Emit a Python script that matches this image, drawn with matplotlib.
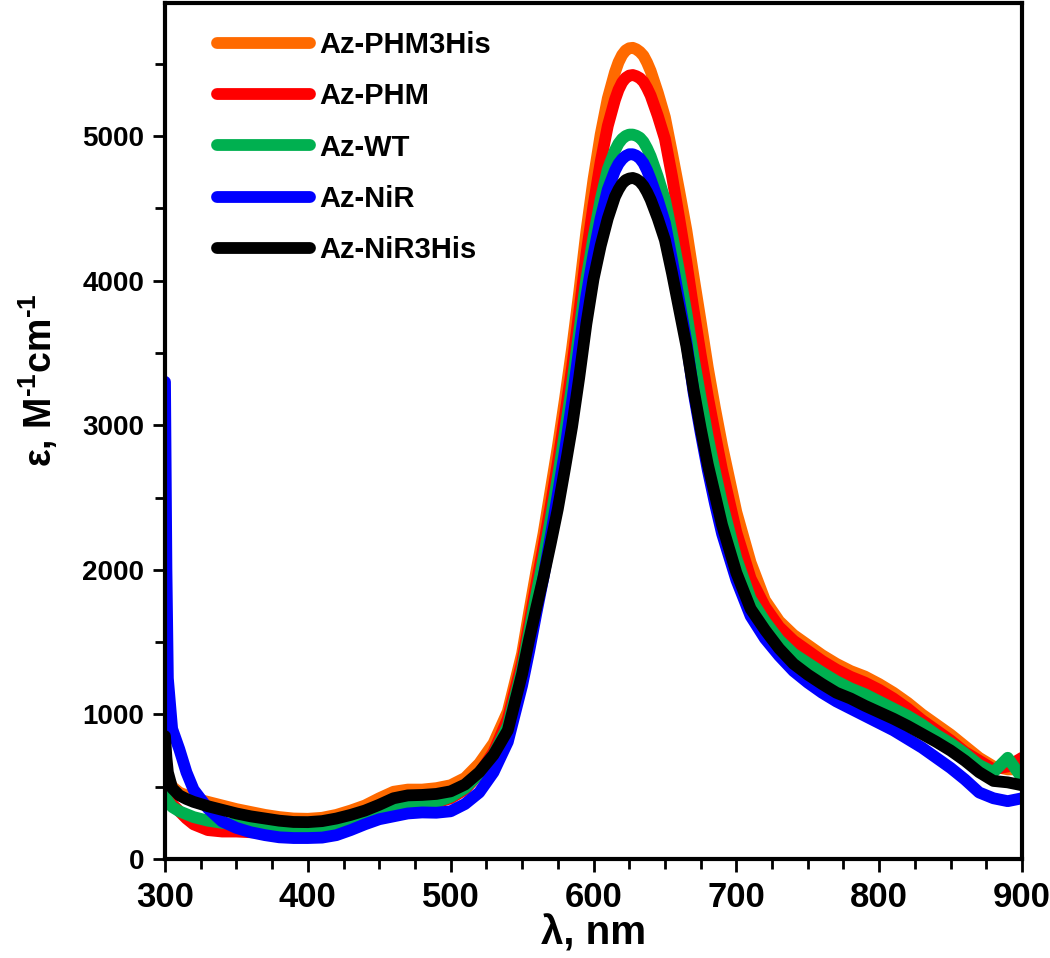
import matplotlib
matplotlib.use("Agg")
import matplotlib.pyplot as plt
from matplotlib.ticker import MultipleLocator

plt.rcParams['font.family'] = ['Liberation Sans', 'DejaVu Sans']
plt.rcParams['font.weight'] = 'bold'
plt.rcParams['mathtext.fontset'] = 'custom'
plt.rcParams['mathtext.rm'] = 'Liberation Sans:bold'
plt.rcParams['mathtext.bf'] = 'Liberation Sans:bold'
plt.rcParams['mathtext.default'] = 'rm'

# wavelength grid, nm
wl = [300, 301, 302, 305, 310, 315,
      320, 330, 340, 350, 360, 370, 380, 390, 400, 410, 420, 430, 440, 450,
      460, 470, 480, 490, 500, 510, 520, 530, 540,
      550, 555, 560, 565, 570, 575, 580, 585, 590, 595, 600, 605, 610,
      615, 617.5, 620, 622.5, 625, 627.5, 630, 632.5, 635, 637.5, 640,
      645, 650, 655, 660, 665, 670, 675, 680, 685, 690,
      700, 710, 720, 730, 740, 750, 760, 770, 780, 790, 800, 810, 820, 830,
      840, 850, 860, 870, 880, 890, 900]

# extinction coefficients, M-1 cm-1
phm3his = [700, 620, 560, 500, 460, 440,
           420, 395, 370, 345, 325, 305, 290, 280, 278, 285, 305, 335, 370, 420,
           465, 480, 480, 490, 510, 560, 660, 800, 1020,
           1420, 1710, 1990, 2250, 2550, 2850, 3180, 3530, 3920, 4340, 4700, 5010, 5260,
           5440, 5510, 5560, 5592, 5607, 5610, 5600, 5582, 5555, 5508, 5450,
           5300, 5130, 4880, 4620, 4350, 4030, 3720, 3400, 3120, 2860,
           2400, 2050, 1790, 1645, 1550, 1480, 1410, 1350, 1300, 1262, 1210, 1150, 1080, 1000,
           930, 860, 780, 700, 640, 620, 620]

phm = [500, 450, 420, 380, 330, 280,
       240, 200, 190, 190, 185, 185, 183, 183, 188, 200, 220, 255, 290, 330,
       365, 380, 385, 390, 420, 480, 590, 740, 970,
       1360, 1630, 1900, 2160, 2440, 2740, 3060, 3400, 3780, 4180, 4520, 4820, 5070,
       5250, 5320, 5370, 5402, 5418, 5422, 5414, 5400, 5375, 5332, 5280,
       5140, 4980, 4720, 4430, 4130, 3800, 3490, 3200, 2940, 2690,
       2260, 1940, 1745, 1605, 1510, 1440, 1370, 1310, 1260, 1220, 1170, 1110, 1040, 960,
       890, 820, 740, 680, 620, 640, 700]

wt = [450, 420, 400, 360, 330, 310,
      290, 265, 250, 240, 230, 222, 215, 212, 213, 220, 240, 270, 300, 335,
      365, 375, 380, 395, 430, 490, 590, 720, 920,
      1310, 1570, 1830, 2080, 2350, 2640, 2950, 3280, 3650, 4010, 4300, 4560, 4770,
      4900, 4948, 4980, 5000, 5010, 5010, 5002, 4988, 4960, 4915, 4860,
      4720, 4560, 4320, 4060, 3780, 3470, 3190, 2920, 2680, 2460,
      2080, 1800, 1645, 1515, 1420, 1355, 1290, 1230, 1180, 1140, 1090, 1040, 990, 930,
      860, 800, 730, 650, 600, 700, 560]

nir = [3300, 2000, 1250, 900, 760, 600,
       480, 350, 260, 215, 185, 165, 150, 145, 145, 148, 165, 200, 240, 275,
       295, 315, 322, 320, 330, 380, 460, 600, 810,
       1200, 1440, 1700, 1950, 2230, 2520, 2820, 3160, 3530, 3890, 4180, 4430, 4630,
       4760, 4808, 4840, 4862, 4874, 4874, 4864, 4845, 4812, 4762, 4700,
       4560, 4400, 4140, 3860, 3580, 3230, 2950, 2690, 2460, 2250,
       1930, 1680, 1525, 1405, 1300, 1220, 1150, 1090, 1040, 990, 940, 890, 830, 770,
       700, 630, 550, 460, 420, 400, 420]

nir3his = [850, 700, 600, 490, 440, 415,
           395, 365, 340, 315, 295, 280, 265, 256, 255, 262, 280, 305, 335, 375,
           420, 440, 443, 450, 468, 515, 600, 720, 890,
           1280, 1520, 1740, 1950, 2180, 2420, 2700, 2990, 3330, 3700, 4010, 4240, 4430,
           4580, 4630, 4670, 4695, 4706, 4710, 4702, 4685, 4655, 4612, 4560,
           4430, 4280, 4050, 3800, 3550, 3250, 2980, 2730, 2520, 2310,
           1980, 1730, 1585, 1455, 1350, 1275, 1210, 1150, 1110, 1060, 1015, 970, 920, 865,
           810, 750, 680, 600, 540, 530, 510]

labels = ['Az-PHM3His', 'Az-PHM', 'Az-WT', 'Az-NiR', 'Az-NiR3His']
colors = ['#ff6a00', '#ff0000', '#00b050', '#0000ff', '#000000']
series = [phm3his, phm, wt, nir, nir3his]

fig = plt.figure(figsize=(10.5, 9.58), dpi=100)
ax = fig.add_axes([165/1050, 1 - 859/958, 857/1050, 856/958])

for y, c, lab in zip(series, colors, labels):
    ax.plot(wl, y, color=c, lw=8.5, label=lab, solid_capstyle='round', solid_joinstyle='round')

ax.set_xlim(300, 900)
ax.set_ylim(0, 5920)
ax.xaxis.set_major_locator(MultipleLocator(100))
ax.xaxis.set_minor_locator(MultipleLocator(25))
ax.yaxis.set_major_locator(MultipleLocator(1000))
ax.yaxis.set_minor_locator(MultipleLocator(500))

for s in ax.spines.values():
    s.set_linewidth(3)
ax.tick_params(which='major', direction='out', length=9, width=2, pad=6)
ax.tick_params(which='minor', direction='out', length=7, width=2)
ax.tick_params(axis='y', labelsize=20)
ax.tick_params(axis='x', labelsize=25, pad=7)
for t in ax.get_xticklabels() + ax.get_yticklabels():
    t.set_fontweight('bold')

ax.set_xlabel('λ, nm', fontsize=29, fontweight='bold', labelpad=0)
ax.set_ylabel(r'ε, M$^{\text{-1}}$cm$^{\text{-1}}$', fontsize=27, fontweight='bold')
ax.yaxis.set_label_coords(-0.122, 0.56)

leg = ax.legend(loc='upper left', bbox_to_anchor=(0.03, 0.998), frameon=False,
                fontsize=21, handlelength=3.2, handletextpad=0.3, labelspacing=0.8)
for line in leg.get_lines():
    line.set_linewidth(8.5)
for t in leg.get_texts():
    t.set_fontweight('bold')

fig.savefig('out.png', dpi=100)
